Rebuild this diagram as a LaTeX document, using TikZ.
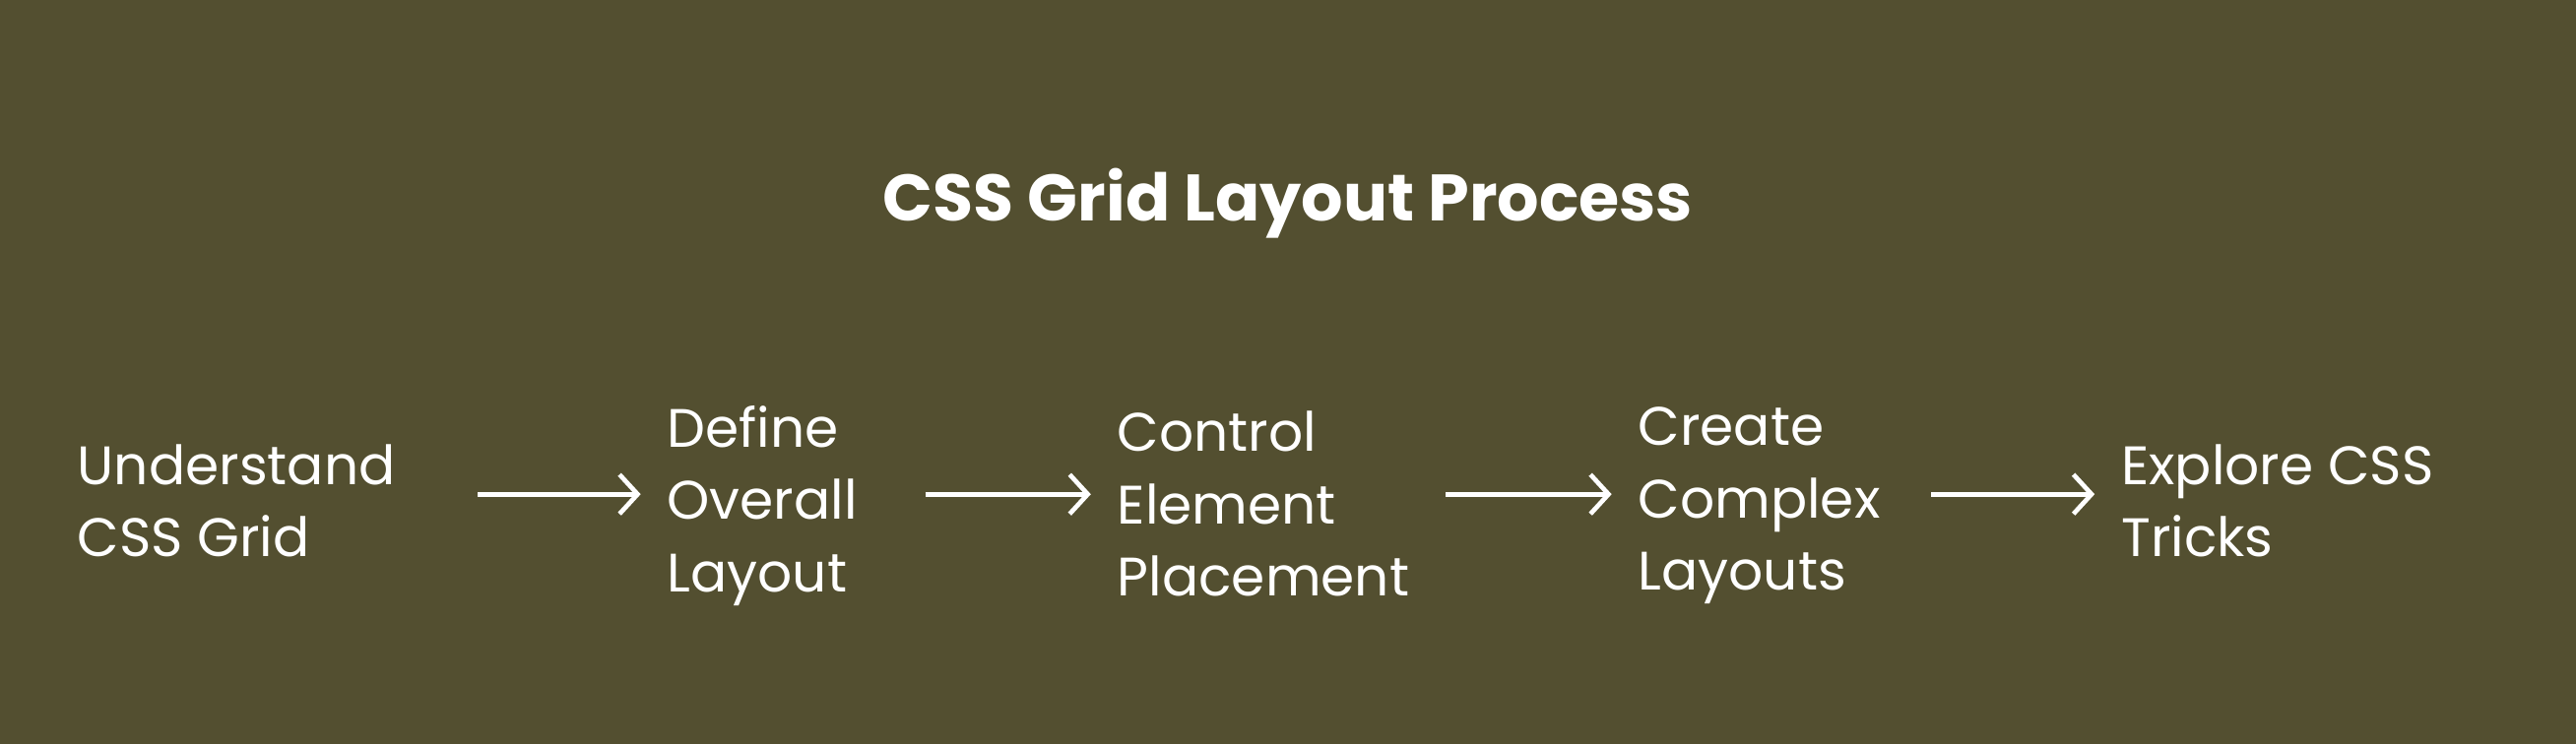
\documentclass[tikz,border=0pt]{standalone}
\usepackage{fontspec}
\setmainfont{Poppins}
\usetikzlibrary{arrows.meta}
\definecolor{bg}{HTML}{534F30}
\begin{document}
\begin{tikzpicture}[x=1pt,y=-1pt,
  stepbox/.style={anchor=west,align=left,text=white,inner sep=0pt,font=\fontsize{33}{44}\selectfont},
  flow/.style={draw=white,line width=2.8pt,-{Straight Barb[length=11pt,width=24pt]}}]
\fill[bg] (0,0) rectangle (1568,453);
\useasboundingbox (0,0) rectangle (1568,453);
\node[text=white,font=\bfseries\fontsize{40}{48}\selectfont] (t) at (784,124) {CSS Grid Layout Process};
\node[stepbox] (a) at (47,305) {Understand\\CSS Grid};
\node[stepbox] (b) at (406,308) {Define\\Overall\\Layout};
\node[stepbox] (c) at (680,307) {Control\\Element\\Placement};
\node[stepbox] (d) at (997,308) {Create\\Complex\\Layouts};
\node[stepbox] (e) at (1291,305) {Explore CSS\\Tricks};
\draw[flow] ([xshift=50pt,yshift=4pt]a.east) -- ([xshift=-16pt,yshift=7pt]b.west);
\draw[flow] ([xshift=41pt,yshift=7pt]b.east) -- ([xshift=-16pt,yshift=6pt]c.west);
\draw[flow] ([xshift=22pt,yshift=6pt]c.east) -- ([xshift=-16pt,yshift=7pt]d.west);
\draw[flow] ([xshift=31pt,yshift=7pt]d.east) -- ([xshift=-16pt,yshift=4pt]e.west);
\end{tikzpicture}
\end{document}
